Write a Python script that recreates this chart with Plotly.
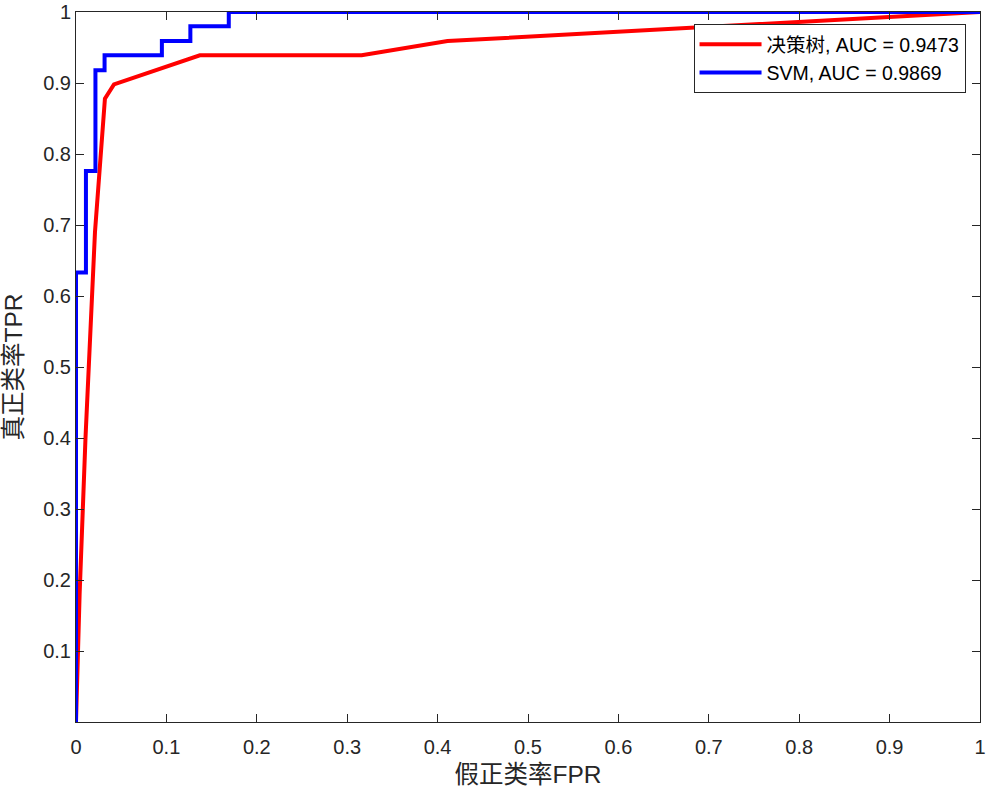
import plotly.graph_objects as go

# Decision tree ROC points
dt_fpr = [0.0, 0.004, 0.0105, 0.021, 0.032, 0.042, 0.137, 0.316, 0.411, 1.0]
dt_tpr = [0.0, 0.18, 0.40, 0.69, 0.878, 0.898, 0.939, 0.939, 0.959, 1.0]

# SVM ROC points (staircase)
svm_fpr = [0.0, 0.0, 0.011, 0.011, 0.0215, 0.0215, 0.0316, 0.0316, 0.095, 0.095, 0.1265, 0.1265, 0.169, 0.169, 1.0]
svm_tpr = [0.0, 0.633, 0.633, 0.776, 0.776, 0.918, 0.918, 0.939, 0.939, 0.959, 0.959, 0.980, 0.980, 1.0, 1.0]

names = ["决策树, AUC = 0.9473", "SVM, AUC = 0.9869"]
x_ticks = [0, 0.1, 0.2, 0.3, 0.4, 0.5, 0.6, 0.7, 0.8, 0.9, 1]
x_labels = ["0", "0.1", "0.2", "0.3", "0.4", "0.5", "0.6", "0.7", "0.8", "0.9", "1"]
y_ticks = [0.1, 0.2, 0.3, 0.4, 0.5, 0.6, 0.7, 0.8, 0.9, 1]
y_labels = ["0.1", "0.2", "0.3", "0.4", "0.5", "0.6", "0.7", "0.8", "0.9", "1"]

FONT = "Liberation Sans, Arial, Noto Sans CJK SC, sans-serif"
AX = "#262626"

fig = go.Figure()
fig.add_trace(go.Scatter(x=dt_fpr, y=dt_tpr, mode="lines", name=names[0],
                         line=dict(color="#ff0000", width=4)))
fig.add_trace(go.Scatter(x=svm_fpr, y=svm_tpr, mode="lines", name=names[1],
                         line=dict(color="#0000ff", width=4)))

axis_common = dict(showgrid=False, zeroline=False, showline=True, linecolor=AX, linewidth=1,
                   mirror="allticks", ticks="inside", ticklen=8, tickcolor=AX, tickwidth=1,
                   automargin=False, ticklabeloverflow="allow",
                   tickfont=dict(family=FONT, size=20, color=AX))

fig.update_xaxes(range=[0, 1.000001], tickvals=x_ticks, ticktext=x_labels, ticklabelstandoff=7,
                 title=dict(text="假正类率FPR", font=dict(family=FONT, size=24.5, color=AX), standoff=8),
                 **axis_common)
fig.update_yaxes(range=[0, 1.000001], tickvals=y_ticks, ticktext=y_labels,
                 title=dict(text="真正类率TPR", font=dict(family=FONT, size=24.5, color=AX), standoff=13),
                 **axis_common)

fig.update_layout(
    width=986, height=790,
    margin=dict(l=76, r=6, t=12, b=68, autoexpand=False),
    plot_bgcolor="white", paper_bgcolor="white",
    font=dict(family=FONT, color=AX),
    legend=dict(x=0.984, y=0.983, xanchor="right", yanchor="top",
                bgcolor="white", bordercolor=AX, borderwidth=1,
                font=dict(family=FONT, size=19.5, color="#000000"),
                itemwidth=62, tracegroupgap=0),
    showlegend=True,
)

fig.write_html("out.html", config={"displayModeBar": False},
               post_script="document.body.style.margin='0';")
